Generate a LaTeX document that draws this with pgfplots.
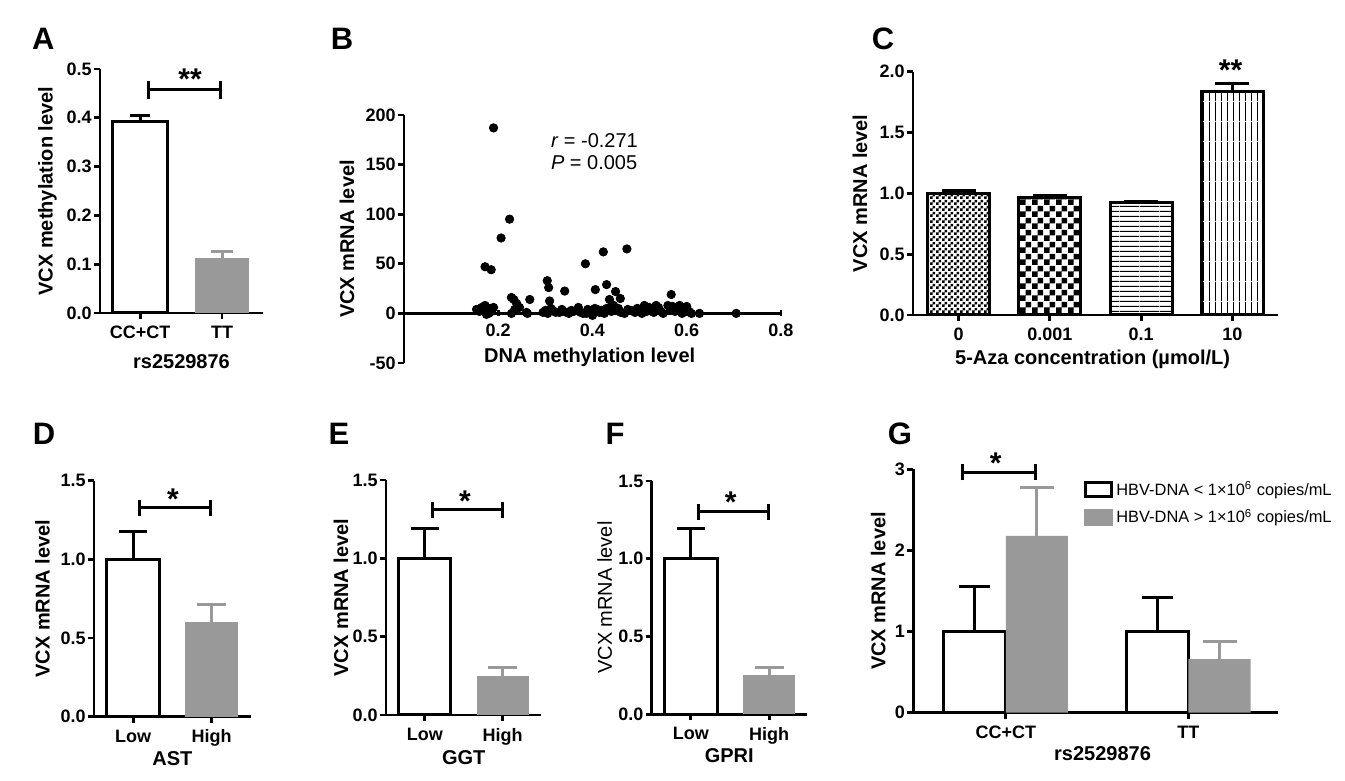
\documentclass[border=0pt]{standalone}
\usepackage{fontspec}
\setmainfont{Liberation Sans}
\usepackage{pgfplots}
\pgfplotsset{compat=1.18}
\usetikzlibrary{patterns,arrows.meta}

\pgfdeclarepatternformonly{finechecker}{\pgfpointorigin}{\pgfqpoint{3pt}{3pt}}{\pgfqpoint{3pt}{3pt}}{%
 \pgfpathrectangle{\pgfpointorigin}{\pgfqpoint{1.5pt}{1.5pt}}%
 \pgfpathrectangle{\pgfqpoint{1.5pt}{1.5pt}}{\pgfqpoint{1.5pt}{1.5pt}}%
 \pgfusepath{fill}}
\pgfdeclarepatternformonly{bigchecker}{\pgfpointorigin}{\pgfqpoint{6pt}{6pt}}{\pgfqpoint{6pt}{6pt}}{%
 \pgfpathrectangle{\pgfpointorigin}{\pgfqpoint{3pt}{3pt}}%
 \pgfpathrectangle{\pgfqpoint{3pt}{3pt}}{\pgfqpoint{3pt}{3pt}}%
 \pgfusepath{fill}}
\pgfdeclarepatternformonly{hlinesC}{\pgfpointorigin}{\pgfqpoint{10pt}{2.3pt}}{\pgfqpoint{10pt}{2.3pt}}{%
 \pgfpathrectangle{\pgfpointorigin}{\pgfqpoint{10pt}{0.55pt}}%
 \pgfusepath{fill}}
\pgfdeclarepatternformonly{vlinesC}{\pgfpointorigin}{\pgfqpoint{3.15pt}{10pt}}{\pgfqpoint{3.15pt}{10pt}}{%
 \pgfpathrectangle{\pgfpointorigin}{\pgfqpoint{0.55pt}{10pt}}%
 \pgfusepath{fill}}

\definecolor{bargray}{RGB}{153,153,153}

\pgfplotsset{
 prism/.style={
  scale only axis, clip=false,
  axis x line=bottom, axis y line=left,
  axis line style={-, line width=1.4pt},
  tick align=outside, major tick length=3pt,
  major tick style={line width=1.4pt, black},
  /pgf/number format/assume math mode=true,
  tick label style={font=\fontsize{9}{10}\selectfont\bfseries},
  yticklabel style={inner xsep=1pt},
  label style={font=\fontsize{10}{12}\selectfont\bfseries},
 },
 onedec/.style={yticklabel style={/pgf/number format/.cd, fixed, fixed zerofill, precision=1}},
 errplus/.style 2 args={error bars/y dir=plus, error bars/y explicit,
   error bars/error bar style={line width=1.5pt, #1},
   error bars/error mark options={line width=1.5pt, #1, mark size=#2, rotate=90}},
 whitebar/.style={bar shift=0pt, draw=black, fill=white, line width=1.5pt, errplus={black}{#1}},
 graybar/.style={bar shift=0pt, draw=none, fill=bargray, errplus={bargray}{#1}},
 patbar/.style={bar shift=0pt, draw=black, line width=1.5pt, pattern=#1, pattern color=black,
   errplus={black}{8.5pt}},
}
\newcommand\starfont{\fontsize{15}{15}\selectfont\bfseries}
\newcommand\letterfont{\fontsize{15.5}{15.5}\selectfont\bfseries}

\begin{document}
\begin{tikzpicture}
\path[use as bounding box] (0pt,0pt) rectangle (672.5pt,390.5pt);

% panel letters
\node[font=\letterfont] at (21.65pt,371pt) {A};
\node[font=\letterfont] at (171pt,371pt) {B};
\node[font=\letterfont] at (441.5pt,371pt) {C};
\node[font=\letterfont] at (22pt,173.5pt) {D};
\node[font=\letterfont] at (169.5pt,173.5pt) {E};
\node[font=\letterfont] at (307.5pt,173.5pt) {F};
\node[font=\letterfont] at (450pt,173.5pt) {G};

% ---------------- A
\begin{axis}[prism, onedec, at={(50pt,234pt)}, anchor=south west,
  width=81.5pt, height=122pt,
  xmin=-0.49, xmax=1.5, ymin=0, ymax=0.5,
  ytick={0,0.1,0.2,0.3,0.4,0.5},
  xtick={0,1}, xticklabels={CC+CT,TT},
  ylabel={VCX methylation level}, xlabel={rs2529876},
  ylabel style={at={([xshift=-26.25pt]axis description cs:0,0.5)}, anchor=center},
  xlabel style={at={([yshift=-24.3pt]axis description cs:0.5,0)}, anchor=center},
  ybar, bar width=0.67]
\addplot[whitebar=5pt] coordinates {(0,0.393) +- (0,0.012)};
\addplot[graybar=5.5pt] coordinates {(1,0.112) +- (0,0.015)};
\draw[line width=1.5pt, {Bar[width=9pt]}-{Bar[width=9pt]}] (axis cs:0.085,0.457) -- (axis cs:1,0.457);
\node[font=\starfont] at (axis cs:0.61,0.479) {**};
\end{axis}

% ---------------- B
\begin{axis}[prism, at={(202pt,209pt)}, anchor=south west,
  width=188.5pt, height=124pt,
  axis x line=middle,
  every inner x axis line/.append style={-},
  xmin=0, xmax=0.8, ymin=-50, ymax=200,
  xtick={0.2,0.4,0.6,0.8}, ytick={-50,0,50,100,150,200},
  xticklabel style={/pgf/number format/.cd, fixed, fixed zerofill, precision=1},
  ylabel={VCX mRNA level},
  ylabel style={at={([xshift=-28.5pt]axis description cs:0,0.5)}, anchor=center}]
\addplot[only marks, mark=*, mark size=2.1pt, black] coordinates {
(0.190,187) (0.224,95) (0.206,76) (0.172,47) (0.185,44) (0.385,50) (0.423,62)
(0.473,65) (0.304,33) (0.307,26) (0.430,29) (0.449,22) (0.406,24) (0.341,22.5)
(0.567,19) (0.436,14) (0.459,15) (0.228,16) (0.239,10) (0.267,14) (0.309,12.5)
(0.233,14) (0.154,4) (0.160,2) (0.165,6) (0.172,8) (0.178,3) (0.182,5) (0.180,0)
(0.186,2) (0.190,6) (0.175,-1) (0.228,0) (0.235,4) (0.245,6) (0.260,1) (0.262,0)
(0.295,1) (0.300,3) (0.305,0) (0.312,5) (0.316,3) (0.322,1) (0.330,1) (0.335,4)
(0.345,1) (0.350,0) (0.355,3) (0.360,2) (0.366,3) (0.370,6) (0.375,1) (0.380,0)
(0.387,0) (0.390,4) (0.395,2) (0.400,-2) (0.405,5) (0.410,4) (0.415,1) (0.420,3)
(0.425,0) (0.430,5) (0.437,6) (0.440,2) (0.445,8) (0.450,3) (0.455,5) (0.460,1)
(0.468,0) (0.475,4) (0.482,3) (0.490,1) (0.495,5) (0.500,4) (0.505,0) (0.510,8)
(0.515,2) (0.520,6) (0.530,1) (0.535,8) (0.540,6) (0.545,2) (0.550,0) (0.560,8)
(0.565,4) (0.570,7) (0.575,2) (0.580,3) (0.585,8) (0.590,0) (0.595,5) (0.600,7)
(0.605,2) (0.610,0) (0.627,0) (0.705,0)
};
\node[font=\fontsize{10}{12}\selectfont, anchor=west] at (axis cs:0.297,174.4) {\textit{r} = -0.271};
\node[font=\fontsize{10}{12}\selectfont, anchor=west] at (axis cs:0.297,151.7) {\textit{P} = 0.005};
\node[font=\fontsize{10}{12}\selectfont\bfseries] at (axis cs:0.394,-44.4) {DNA methylation level};
\end{axis}

% ---------------- C
\begin{axis}[prism, onedec, at={(456.5pt,233pt)}, anchor=south west,
  width=182.5pt, height=121.65pt,
  xmin=-0.5, xmax=3.5, ymin=0, ymax=2,
  ytick={0,0.5,1,1.5,2},
  xtick={0,1,2,3}, xticklabels={0,0.001,0.1,10},
  ylabel={VCX mRNA level}, xlabel={5-Aza concentration (µmol/L)},
  ylabel style={at={([xshift=-26.5pt]axis description cs:0,0.5)}, anchor=center},
  xlabel style={at={([yshift=-22pt]axis description cs:0.492,0)}, anchor=center},
  ybar, bar width=0.68]
\addplot[patbar=finechecker] coordinates {(0,1.0) +- (0,0.02)};
\addplot[patbar=bigchecker] coordinates {(1,0.963) +- (0,0.02)};
\addplot[patbar=hlinesC] coordinates {(2,0.924) +- (0,0.013)};
\addplot[patbar=vlinesC] coordinates {(3,1.835) +- (0,0.07)};
\node[font=\starfont] at (axis cs:2.98,2.015) {**};
\end{axis}

% ---------------- D
\begin{axis}[prism, onedec, at={(47pt,32.15pt)}, anchor=south west,
  width=78.35pt, height=118pt,
  xmin=-0.5, xmax=1.5, ymin=0, ymax=1.5,
  ytick={0,0.5,1,1.5},
  xtick={0,1}, xticklabels={Low,High},
  ylabel={VCX mRNA level}, xlabel={AST},
  ylabel style={at={([xshift=-25.75pt]axis description cs:0,0.5)}, anchor=center},
  xlabel style={at={([yshift=-20.85pt]axis description cs:0.5,0)}, anchor=center},
  ybar, bar width=0.67]
\addplot[whitebar=7pt] coordinates {(0,1.0) +- (0,0.18)};
\addplot[graybar=7.2pt] coordinates {(1,0.60) +- (0,0.115)};
\draw[line width=1.5pt, {Bar[width=8pt]}-{Bar[width=8pt]}] (axis cs:0.064,1.328) -- (axis cs:1,1.328);
\node[font=\starfont] at (axis cs:0.507,1.385) {*};
\end{axis}

% ---------------- E
\begin{axis}[prism, onedec, at={(193pt,33pt)}, anchor=south west,
  width=77.7pt, height=117.5pt,
  xmin=-0.5, xmax=1.5, ymin=0, ymax=1.5,
  ytick={0,0.5,1,1.5},
  xtick={0,1}, xticklabels={Low,High},
  ylabel={VCX mRNA level}, xlabel={GGT},
  ylabel style={at={([xshift=-22.5pt]axis description cs:0,0.5)}, anchor=center},
  xlabel style={at={([yshift=-21.25pt]axis description cs:0.5,0)}, anchor=center},
  ybar, bar width=0.67]
\addplot[whitebar=7pt] coordinates {(0,1.0) +- (0,0.189)};
\addplot[graybar=7.2pt] coordinates {(1,0.251) +- (0,0.051)};
\draw[line width=1.5pt, {Bar[width=8pt]}-{Bar[width=8pt]}] (axis cs:0.077,1.309) -- (axis cs:1.02,1.309);
\node[font=\starfont] at (axis cs:0.515,1.363) {*};
\end{axis}

% ---------------- F
\begin{axis}[prism, onedec, at={(325.85pt,33.35pt)}, anchor=south west,
  width=77.5pt, height=116.65pt,
  xmin=-0.5, xmax=1.48, ymin=0, ymax=1.5,
  ytick={0,0.5,1,1.5},
  xtick={0,1}, xticklabels={Low,High},
  ylabel={VCX mRNA level}, xlabel={GPRI},
  ylabel style={at={([xshift=-23.5pt]axis description cs:0,0.5)}, anchor=center,
    font=\fontsize{10}{12}\selectfont\mdseries},
  xlabel style={at={([yshift=-20.75pt]axis description cs:0.5,0)}, anchor=center},
  ybar, bar width=0.67]
\addplot[whitebar=7pt] coordinates {(0,1.0) +- (0,0.193)};
\addplot[graybar=7.2pt] coordinates {(1,0.255) +- (0,0.045)};
\draw[line width=1.5pt, {Bar[width=8pt]}-{Bar[width=8pt]}] (axis cs:0.077,1.303) -- (axis cs:1.01,1.303);
\node[font=\starfont] at (axis cs:0.51,1.362) {*};
\end{axis}

% ---------------- G
\begin{axis}[prism, at={(456.65pt,34.15pt)}, anchor=south west,
  width=182.35pt, height=121.7pt,
  xmin=-0.506, xmax=1.49, ymin=0, ymax=3,
  ytick={0,1,2,3},
  xtick={0,1}, xticklabels={CC+CT,TT},
  ylabel={VCX mRNA level}, xlabel={rs2529876},
  ylabel style={at={([xshift=-17.5pt]axis description cs:0,0.5)}, anchor=center},
  xlabel style={at={([yshift=-20.3pt]axis description cs:0.519,0)}, anchor=center},
  ybar, bar width=0.34,
  legend style={at={(0.468,0.964)}, anchor=north west, draw=none, fill=none,
    font=\fontsize{8.2}{10}\selectfont, row sep=2.5pt, inner sep=0pt,
    nodes={inner sep=1.5pt}},
  legend cell align=left]
\addplot[whitebar=7.75pt, legend image code/.code={\draw[draw=black,fill=white,line width=1.5pt] (0pt,-3.6pt) rectangle (13pt,3.6pt);}]
  coordinates {(-0.17,1.0) +- (0,0.55) (0.83,1.0) +- (0,0.42)};
\addlegendentry{HBV-DNA < 1×10\textsuperscript{6} copies/mL}
\addplot[graybar=8.5pt, legend image code/.code={\fill[bargray] (-0.75pt,-4.35pt) rectangle (13.75pt,4.35pt);}]
  coordinates {(0.17,2.18) +- (0,0.60) (1.17,0.66) +- (0,0.22)};
\addlegendentry{HBV-DNA > 1×10\textsuperscript{6} copies/mL}
\draw[line width=1.5pt, {Bar[width=8pt]}-{Bar[width=8pt]}] (axis cs:-0.246,2.963) -- (axis cs:0.17,2.963);
\node[font=\starfont] at (axis cs:-0.055,3.08) {*};
\end{axis}
\end{tikzpicture}
\end{document}
